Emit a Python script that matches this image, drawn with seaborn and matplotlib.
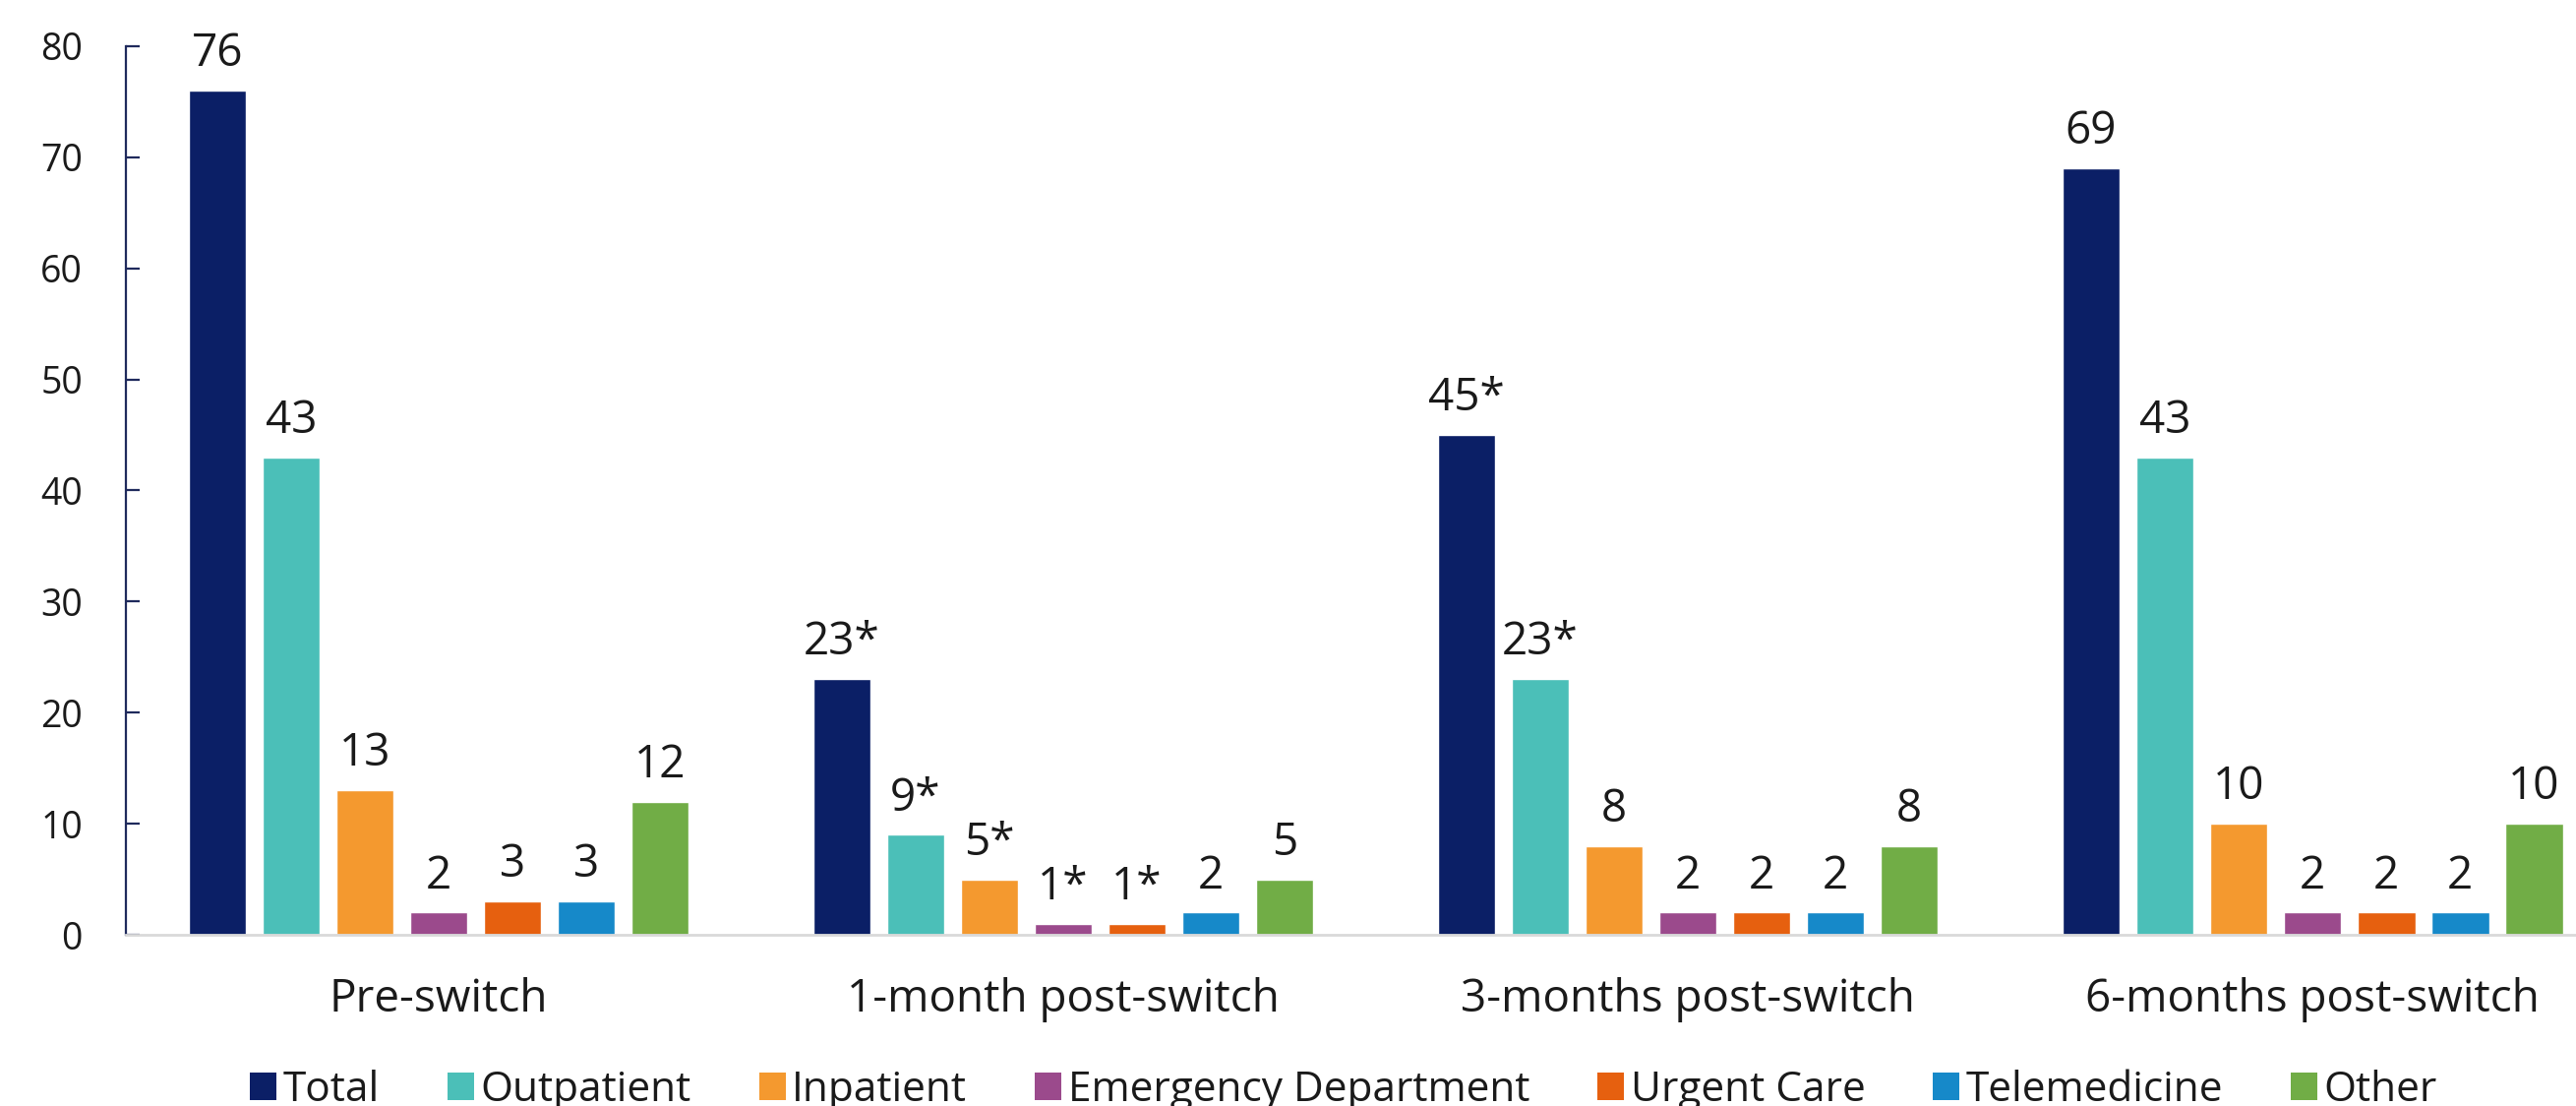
import numpy as np
import pandas as pd
import seaborn as sns
import matplotlib.pyplot as plt
from matplotlib.patches import Patch

# data
periods = ["Pre-switch", "1-month post-switch", "3-months post-switch", "6-months post-switch"]
settings = ["Total", "Outpatient", "Inpatient", "Emergency Department",
            "Urgent Care", "Telemedicine", "Other"]

total = [76, 23, 45, 69]
outpatient = [43, 9, 23, 43]
inpatient = [13, 5, 8, 10]
emergency = [2, 1, 2, 2]
urgent_care = [3, 1, 2, 2]
telemedicine = [3, 2, 2, 2]
other = [12, 5, 8, 10]

# significance marks (*) per setting, per period
total_sig = [False, True, True, False]
outpatient_sig = [False, True, True, False]
inpatient_sig = [False, True, False, False]
emergency_sig = [False, True, False, False]
urgent_care_sig = [False, True, False, False]
telemedicine_sig = [False, False, False, False]
other_sig = [False, False, False, False]

colors = ["#0B1F66", "#4BBFB8", "#F4992F", "#9B4A8C", "#E6600F", "#1689C9", "#71AD46"]

values = [total, outpatient, inpatient, emergency, urgent_care, telemedicine, other]
sigs = [total_sig, outpatient_sig, inpatient_sig, emergency_sig,
        urgent_care_sig, telemedicine_sig, other_sig]

rows = []
for s, vals in zip(settings, values):
    for p, v in zip(periods, vals):
        rows.append({"period": p, "setting": s, "visits": v})
df = pd.DataFrame(rows)

sns.set_theme(style="white")
plt.rcParams["font.family"] = ["Open Sans", "DejaVu Sans"]

fig = plt.figure(figsize=(26.19, 11.24), dpi=100)
ax = fig.add_axes([0.049, 0.1548, 0.970, 0.8034])

sns.barplot(data=df, x="period", y="visits", hue="setting", order=periods,
            hue_order=settings, palette=colors, width=0.827, gap=0.22,
            saturation=1, errorbar=None, legend=False, ax=ax)

for cont, vals, sg in zip(ax.containers, values, sigs):
    labels = [f"{v}*" if flag else f"{v}" for v, flag in zip(vals, sg)]
    ax.bar_label(cont, labels=labels, padding=10, fontsize=33, color="#1a1a1a")

ax.set_xlim(-0.5, 3.5)
ax.set_ylim(0, 80)
ax.set_yticks(np.arange(0, 81, 10))
ax.set_xlabel("")
ax.set_ylabel("")

for side in ["top", "right"]:
    ax.spines[side].set_visible(False)
ax.spines["left"].set_color("#1F2A5C")
ax.spines["left"].set_linewidth(1.6)
ax.spines["bottom"].set_color("#D9D9D9")
ax.spines["bottom"].set_linewidth(2)

ax.tick_params(axis="y", direction="in", length=10, width=1.6, color="#1F2A5C",
               pad=32, labelsize=27, labelcolor="#1a1a1a", left=True)
ax.tick_params(axis="x", length=0, pad=31, labelsize=33, labelcolor="#1a1a1a")

handles = [Patch(facecolor=c, edgecolor="none") for c in colors]
fig.legend(handles, settings, loc="center left", bbox_to_anchor=(254 / 2619, 16 / 1124),
           ncol=7, frameon=False, fontsize=30.5, handlelength=0.64, handleheight=0.64,
           handletextpad=0.15, columnspacing=1.63, borderpad=0, borderaxespad=0,
           labelcolor="#1a1a1a")

fig.savefig("out.png", dpi=100, facecolor="white")
